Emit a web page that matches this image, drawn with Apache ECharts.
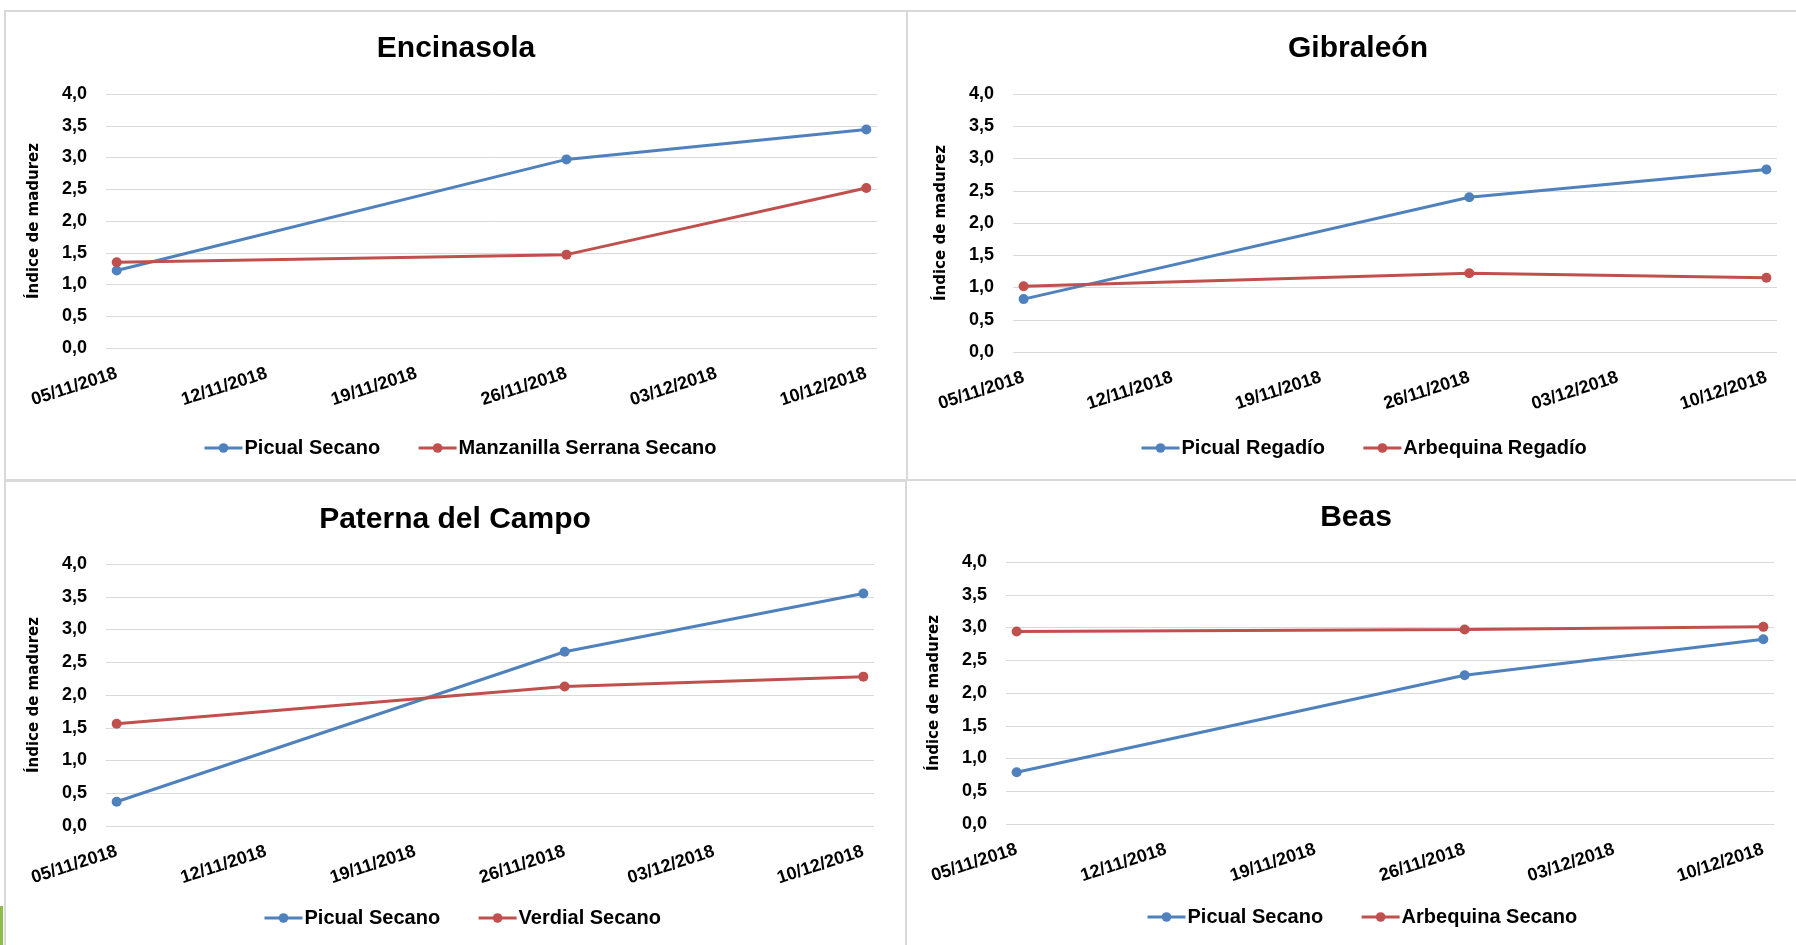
<!DOCTYPE html>
<html>
<head>
<meta charset="utf-8">
<script src="https://cdn.jsdelivr.net/npm/echarts@6/dist/echarts.min.js"></script>
<style>
    html, body { margin: 0; padding: 0; background: #fff; }
    #chart { width: 1796px; height: 945px; }
</style>
</head>
<body>
<div id="chart"></div>
<script>
// etiquetas del eje X (semanas) y fechas de muestreo
var tickLabels = ['05/11/2018', '12/11/2018', '19/11/2018', '26/11/2018', '03/12/2018', '10/12/2018']
var sampleDates = ['05/11/2018', '26/11/2018', '10/12/2018']

var titles = ['Encinasola', 'Gibraleón', 'Paterna del Campo', 'Beas']
var yAxisName = 'Índice de madurez'

// Encinasola
var encinasolaNames = ['Picual Secano', 'Manzanilla Serrana Secano']
var encinasolaPicual = [1.22, 2.97, 3.44]
var encinasolaManzanilla = [1.35, 1.47, 2.52]
// Gibraleón
var gibraleonNames = ['Picual Regadío', 'Arbequina Regadío']
var gibraleonPicual = [0.82, 2.40, 2.83]
var gibraleonArbequina = [1.02, 1.22, 1.15]
// Paterna del Campo
var paternaNames = ['Picual Secano', 'Verdial Secano']
var paternaPicual = [0.37, 2.66, 3.55]
var paternaVerdial = [1.56, 2.13, 2.28]
// Beas
var beasNames = ['Picual Secano', 'Arbequina Secano']
var beasPicual = [0.79, 2.27, 2.82]
var beasArbequina = [2.94, 2.97, 3.01]

var panelSeries = [
    [encinasolaNames, encinasolaPicual, encinasolaManzanilla],
    [gibraleonNames, gibraleonPicual, gibraleonArbequina],
    [paternaNames, paternaPicual, paternaVerdial],
    [beasNames, beasPicual, beasArbequina]
]

var FONT = "'Liberation Sans', sans-serif"
var COLORS = ['#4f81bd', '#c0504d']

// una categoria por dia, para que las fechas caigan en su sitio
function parseDate(s) {
    var p = s.split('/')
    return Date.UTC(+p[2], +p[1] - 1, +p[0])
}
function pad(n) { return n < 10 ? '0' + n : '' + n }
function fmtDate(t) {
    var d = new Date(t)
    return pad(d.getUTCDate()) + '/' + pad(d.getUTCMonth() + 1) + '/' + d.getUTCFullYear()
}
var days = []
for (var t = parseDate(tickLabels[0]); t <= parseDate(tickLabels[tickLabels.length - 1]); t += 86400000) {
    days.push(fmtDate(t))
}

// posiciones de cada panel
var layout = [
    { grid: { left: 106, top: 94, width: 771, height: 254 }, titleX: 456, titleY: 34, legendX: 203, legendY: 438 },
    { grid: { left: 1013, top: 94, width: 764, height: 258 }, titleX: 1358, titleY: 34, legendX: 1140, legendY: 438 },
    { grid: { left: 106, top: 564, width: 768, height: 262 }, titleX: 455, titleY: 505, legendX: 263, legendY: 908 },
    { grid: { left: 1006, top: 562, width: 768, height: 262 }, titleX: 1356, titleY: 503, legendX: 1146, legendY: 907 }
]

var option = {
    backgroundColor: '#fff',
    animation: false,
    textStyle: { fontFamily: FONT },
    title: [], grid: [], xAxis: [], yAxis: [], legend: [], series: [],
    graphic: [
        { type: 'rect', shape: { x: 5, y: 11, width: 902, height: 469 }, style: { fill: null, stroke: '#d9d9d9', lineWidth: 2 } },
        { type: 'rect', shape: { x: 907, y: 11, width: 900, height: 469 }, style: { fill: null, stroke: '#d9d9d9', lineWidth: 2 } },
        { type: 'rect', shape: { x: 5, y: 481, width: 901, height: 480 }, style: { fill: null, stroke: '#d9d9d9', lineWidth: 2 } },
        { type: 'rect', shape: { x: 906, y: 480, width: 900, height: 480 }, style: { fill: null, stroke: '#d9d9d9', lineWidth: 2 } },
        { type: 'rect', shape: { x: 0, y: 906, width: 3, height: 39 }, style: { fill: '#8fbc4a' } }
    ]
}

layout.forEach(function (p, i) {
    var names = panelSeries[i][0]
    option.title.push({
        text: titles[i],
        left: p.titleX,
        top: p.titleY,
        textAlign: 'center',
        padding: 0,
        textStyle: { fontFamily: FONT, fontSize: 30, fontWeight: 'bold', color: '#000' }
    })
    option.grid.push(p.grid)
    option.xAxis.push({
        type: 'category',
        gridIndex: i,
        data: days,
        boundaryGap: true,
        axisLine: { show: false },
        axisTick: { show: false },
        splitLine: { show: false },
        axisLabel: {
            interval: function (idx, val) { return tickLabels.indexOf(val) >= 0 },
            rotate: 18,
            margin: 25,
            fontFamily: FONT,
            fontSize: 18,
            fontWeight: 'bold',
            color: '#000'
        }
    })
    option.yAxis.push({
        type: 'value',
        gridIndex: i,
        min: 0,
        max: 4,
        interval: 0.5,
        name: yAxisName,
        nameLocation: 'middle',
        nameRotate: 90,
        nameGap: 64,
        nameTextStyle: { fontFamily: 'DejaVu Sans', fontSize: 15, fontWeight: 'bold', color: '#000' },
        axisLine: { show: false },
        axisTick: { show: false },
        splitLine: { lineStyle: { color: '#d9d9d9', width: 1 } },
        axisLabel: {
            margin: 19,
            fontFamily: FONT,
            fontSize: 18,
            fontWeight: 'bold',
            color: '#000',
            formatter: function (v) { return v.toFixed(1).replace('.', ',') }
        }
    })
    option.legend.push({
        data: names,
        left: p.legendX,
        top: p.legendY,
        padding: 0,
        itemGap: 37,
        itemWidth: 38,
        itemHeight: 12,
        lineStyle: { width: 3 },
        textStyle: { fontFamily: FONT, fontSize: 20, fontWeight: 'bold', color: '#000', padding: [0, 0, 0, -3] }
    })
    for (var s = 0; s < 2; s++) {
        var vals = panelSeries[i][s + 1]
        option.series.push({
            name: names[s],
            type: 'line',
            xAxisIndex: i,
            yAxisIndex: i,
            data: sampleDates.map(function (d, k) { return [d, vals[k]] }),
            symbol: 'circle',
            symbolSize: 10,
            color: COLORS[s],
            lineStyle: { width: 3, color: COLORS[s] },
            itemStyle: { color: COLORS[s] }
        })
    }
})

var myChart = echarts.init(document.getElementById('chart'))
myChart.setOption(option)
</script>
</body>
</html>
